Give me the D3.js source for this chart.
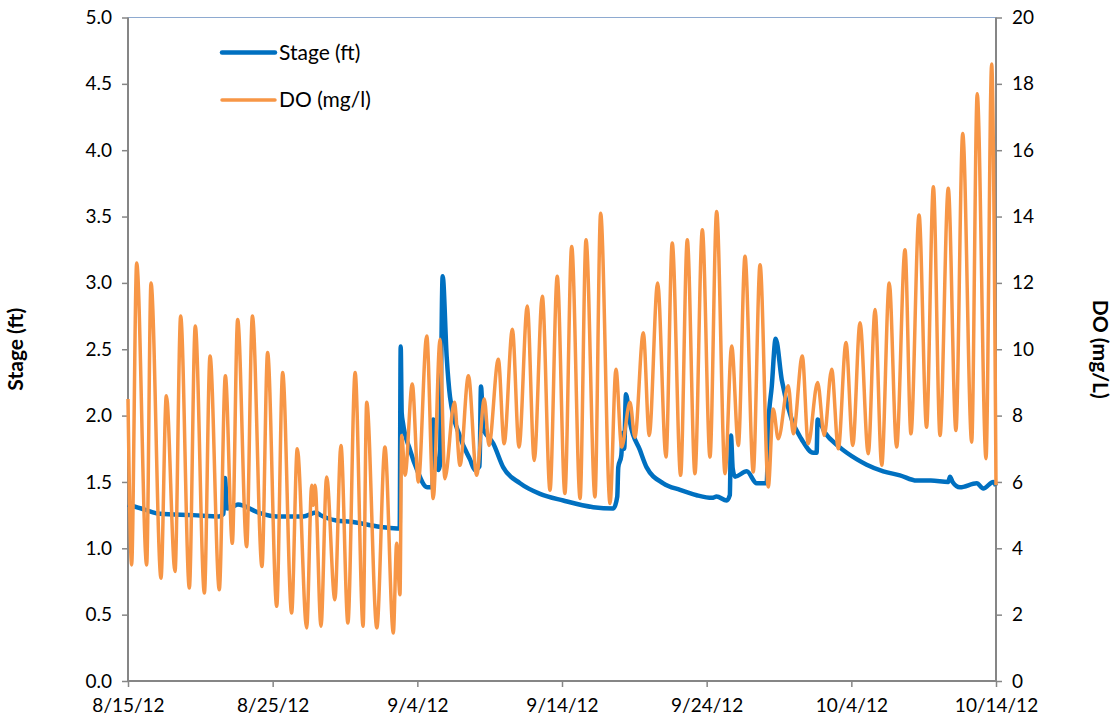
<!DOCTYPE html>
<html>
<head>
<meta charset="utf-8">
<script src="https://cdn.jsdelivr.net/npm/d3@7"></script>
<style>
  body { margin: 0; background: #fff; }
  svg text { font-family: Lato, "Open Sans", sans-serif; fill: #000; }
</style>
</head>
<body>
<div id="chart"></div>
<script>
// x values are days after 8/15/12
var xTickDays = [0, 10, 20, 30, 40, 50, 60];
var xTickLabels = ["8/15/12", "8/25/12", "9/4/12", "9/14/12", "9/24/12", "10/4/12", "10/14/12"];
var stageTicks = [0, 0.5, 1, 1.5, 2, 2.5, 3, 3.5, 4, 4.5, 5];
var doTicks = [0, 2, 4, 6, 8, 10, 12, 14, 16, 18, 20];

// Stage (ft)
var stageSeries = [
  [0, 1.33], [1.2, 1.29], [2.2, 1.26], [4.5, 1.25], [6.3, 1.24], [6.6, 1.26], [6.7, 1.53], [6.85, 1.3],
  [7.2, 1.31], [7.6, 1.33], [9, 1.27], [10.3, 1.24], [12.1, 1.24], [13.0, 1.27], [13.3, 1.25],
  [14.4, 1.21], [15.4, 1.2], [16.5, 1.18], [17.5, 1.16], [18.6, 1.15], [18.78, 1.15], [18.85, 2.52],
  [18.92, 2.02], [19.0, 1.95], [19.5, 1.74], [19.98, 1.59], [20.67, 1.46], [21.05, 1.46], [21.1, 1.97],
  [21.2, 1.75], [21.45, 1.59], [21.55, 1.62], [21.75, 3.05], [22.03, 2.44], [22.26, 2.14], [22.95, 1.84],
  [23.64, 1.67], [23.99, 1.59], [24.3, 1.62], [24.4, 2.22], [24.56, 1.9], [25.25, 1.79], [25.94, 1.61],
  [27.1, 1.49], [28.48, 1.41], [30.09, 1.36], [32.16, 1.31], [33.55, 1.3], [33.82, 1.39], [33.89, 1.61],
  [34.1, 1.7], [34.2, 1.87], [34.3, 1.75], [34.42, 2.16], [34.7, 1.95], [35.39, 1.74], [35.85, 1.61],
  [37.0, 1.49], [38.16, 1.44], [39.31, 1.4], [40.37, 1.38], [40.69, 1.39], [41.38, 1.36], [41.6, 1.4],
  [41.68, 1.85], [41.8, 1.6], [41.96, 1.54], [42.77, 1.58], [43.46, 1.49], [44.15, 1.49], [44.26, 1.92],
  [44.5, 2.22], [44.77, 2.58], [45.19, 2.27], [45.88, 1.97], [46.57, 1.82], [47.37, 1.72], [47.6, 1.72],
  [47.67, 1.97], [48.18, 1.87], [49.1, 1.77], [50.39, 1.67], [51.06, 1.63], [52.21, 1.58], [53.36, 1.55],
  [54.52, 1.51], [55.5, 1.51], [56.7, 1.5], [56.82, 1.54], [57.0, 1.5], [57.51, 1.46], [58.67, 1.49],
  [59.12, 1.45], [59.81, 1.5], [60, 1.47]
];

// DO (mg/l)
var doSeries = [
  [0, 8.5], [0.25, 3.5], [0.6, 12.6], [1.29, 3.5], [1.59, 12.0], [2.28, 3.1], [2.65, 8.6], [3.25, 3.3],
  [3.64, 11.0], [4.24, 2.8], [4.65, 10.7], [5.28, 2.65], [5.67, 9.8], [6.31, 2.75], [6.73, 9.2],
  [7.21, 4.15], [7.58, 10.9], [8.2, 4.05], [8.6, 11.0], [9.26, 3.45], [9.65, 9.9], [10.28, 2.25],
  [10.69, 9.3], [11.31, 2.05], [11.7, 7.0], [12.35, 1.6], [12.7, 5.9], [12.8, 5.3], [12.93, 5.9],
  [13.34, 1.65], [13.73, 6.15], [14.3, 2.45], [14.72, 7.1], [15.2, 1.75], [15.7, 9.3], [16.25, 1.65],
  [16.5, 8.4], [17.2, 1.6], [17.76, 7.05], [18.34, 1.45], [18.57, 4.15], [18.8, 2.6], [18.92, 7.4],
  [19.15, 6.2], [19.65, 8.95], [20.07, 6.0], [20.65, 10.4], [21.1, 5.5], [21.57, 10.3], [21.9, 6.1],
  [22.56, 8.4], [22.95, 6.5], [23.53, 9.2], [24.1, 6.2], [24.63, 8.5], [24.95, 7.1], [25.6, 9.7],
  [26.0, 7.15], [26.57, 10.6], [27.03, 7.05], [27.6, 11.3], [28.08, 6.65], [28.64, 11.6], [29.17, 5.75],
  [29.67, 12.2], [30.2, 5.65], [30.67, 13.1], [31.25, 5.5], [31.66, 13.3], [32.28, 5.55], [32.67, 14.1],
  [33.32, 5.35], [33.73, 9.4], [34.12, 7.05], [34.7, 8.4], [35.04, 7.35], [35.62, 10.5], [36.03, 7.4],
  [36.61, 12.0], [37.19, 6.75], [37.62, 13.2], [38.2, 6.2], [38.66, 13.3], [39.19, 6.25], [39.7, 13.6],
  [40.23, 6.75], [40.69, 14.15], [41.27, 6.25], [41.73, 10.1], [42.19, 7.1], [42.65, 12.8], [43.22, 6.3],
  [43.69, 12.55], [44.26, 5.85], [44.6, 8.2], [44.95, 7.3], [45.64, 8.9], [45.99, 7.45], [46.61, 9.8],
  [47.02, 7.15], [47.67, 9.0], [48.13, 7.4], [48.64, 9.4], [49.1, 7.0], [49.63, 10.2], [50.1, 7.1],
  [50.6, 10.8], [51.17, 6.85], [51.64, 11.2], [52.1, 6.5], [52.62, 12.0], [53.13, 7.05], [53.71, 13.0],
  [54.12, 7.45], [54.68, 14.05], [55.2, 7.65], [55.67, 14.9], [56.13, 7.4], [56.7, 14.85], [57.23, 7.55],
  [57.7, 16.5], [58.32, 7.2], [58.7, 17.7], [59.31, 6.7], [59.7, 18.6], [60, 5.9]
];

var larguraTotal = 1117, alturaTotal = 725;
var margin = {top: 17.5, right: 121, bottom: 44, left: 128};
var width = larguraTotal - margin.left - margin.right,
    height = alturaTotal - margin.top - margin.bottom;
var corEixo = "#868686";

var svg = d3.select("#chart").append("svg")
    .attr("width", larguraTotal)
    .attr("height", alturaTotal);
var g = svg.append("g")
    .attr("transform", "translate(" + margin.left + "," + margin.top + ")");

var x = d3.scaleLinear().domain([0, 60]).range([0, width]);
var yStage = d3.scaleLinear().domain([0, 5]).range([height, 0]);
var yDO = d3.scaleLinear().domain([0, 20]).range([height, 0]);

// top border of plot area
g.append("line")
    .attr("x1", 0).attr("x2", width)
    .attr("y1", 0).attr("y2", 0)
    .attr("stroke", "#8eaad0").attr("stroke-width", 1);

// left axis
var eixoEsq = g.append("g")
    .call(d3.axisLeft(yStage).tickValues(stageTicks).tickFormat(d3.format(".1f")).tickSize(6).tickPadding(10));
// right axis
var eixoDir = g.append("g")
    .attr("transform", "translate(" + width + ",0)")
    .call(d3.axisRight(yDO).tickValues(doTicks).tickFormat(d3.format("d")).tickSize(6).tickPadding(10));
// bottom axis
var eixoX = g.append("g")
    .attr("transform", "translate(0," + height + ")")
    .call(d3.axisBottom(x).tickValues(xTickDays).tickFormat(function (d, i) { return xTickLabels[i]; })
        .tickSize(6).tickPadding(12));

[eixoEsq, eixoDir, eixoX].forEach(function (e) {
    e.select(".domain").attr("stroke", corEixo).attr("stroke-width", 2);
    e.selectAll(".tick line").attr("stroke", corEixo).attr("stroke-width", 1.5);
    e.selectAll(".tick text")
        .style("font-family", "Lato, 'Open Sans', sans-serif")
        .style("font-size", "19px").attr("fill", "#000");
});
eixoX.select(".domain").attr("d", "M0,0H" + width);
eixoEsq.select(".domain").attr("d", "M0," + height + "V0");
eixoDir.select(".domain").attr("d", "M0," + height + "V0");

// lines
var linhaStage = d3.line()
    .x(function (d) { return x(d[0]); })
    .y(function (d) { return yStage(d[1]); })
    .curve(d3.curveMonotoneX);
var linhaDO = d3.line()
    .x(function (d) { return x(d[0]); })
    .y(function (d) { return yDO(d[1]); })
    .curve(d3.curveMonotoneX);

g.append("path")
    .datum(stageSeries)
    .attr("fill", "none")
    .attr("stroke", "#0070c0")
    .attr("stroke-width", 4.5)
    .attr("stroke-linejoin", "round")
    .attr("d", linhaStage);

g.append("path")
    .datum(doSeries)
    .attr("fill", "none")
    .attr("stroke", "#f79646")
    .attr("stroke-width", 3.5)
    .attr("stroke-linejoin", "round")
    .attr("d", linhaDO);

// axis titles
svg.append("text")
    .attr("transform", "translate(23," + (margin.top + height / 2) + ") rotate(-90)")
    .attr("text-anchor", "middle")
    .style("font-size", "21px").style("font-weight", "bold")
    .text("Stage (ft)");
svg.append("text")
    .attr("transform", "translate(1093," + (margin.top + height / 2) + ") rotate(90)")
    .attr("text-anchor", "middle")
    .style("font-size", "21px").style("font-weight", "bold")
    .text("DO (mg/L)");

// legend
var legenda = [
    {nome: "Stage (ft)", cor: "#0070c0", w: 4.5, y: 52.5},
    {nome: "DO (mg/l)", cor: "#f79646", w: 3.5, y: 100}
];
legenda.forEach(function (l) {
    svg.append("line")
        .attr("x1", 222).attr("x2", 275)
        .attr("y1", l.y).attr("y2", l.y)
        .attr("stroke", l.cor).attr("stroke-width", l.w)
        .attr("stroke-linecap", "round");
    svg.append("text")
        .attr("x", 279).attr("y", l.y)
        .attr("dy", "0.35em")
        .style("font-size", "21px")
        .text(l.nome);
});
</script>
</body>
</html>
